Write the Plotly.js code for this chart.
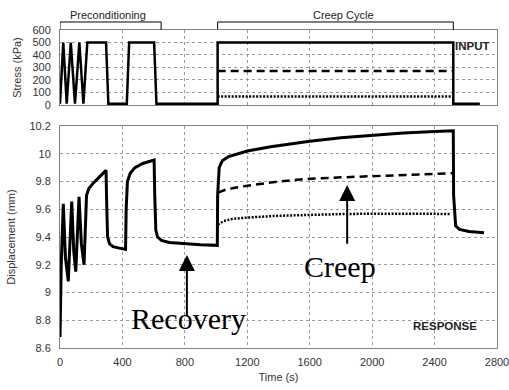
<!DOCTYPE html>
<html><head><meta charset="utf-8">
<script src="https://cdn.plot.ly/plotly-3.0.1.min.js"></script>
<style>html,body{margin:0;padding:0;background:#fff}#c{width:509px;height:390px}</style>
</head><body><div id="c"></div>
<script>
// ---- Input (stress, kPa) ----
const inputT     = [0, 21, 43, 69, 96, 124, 150, 175, 295, 310, 428, 443, 603, 618, 1010, 1010, 2520, 2520, 2690];
const inputHigh  = [10, 500, 10, 500, 10, 500, 10, 500, 500, 10, 10, 500, 500, 10, 10, 500, 500, 10, 10];
const inputMidT  = [1010, 2520];
const inputMid   = [272, 272];
const inputLowT  = [1010, 2505];
const inputLow   = [68, 68];

// ---- Response (displacement, mm) ----
const respT = [0, 8, 21, 35, 53, 75, 88, 101, 122, 137, 154, 162, 170, 185, 214, 250, 295, 300, 305, 318, 340, 380, 420,
               424, 432, 450, 480, 530, 603, 607, 614, 625, 650, 700, 800, 900, 1008,
               1010, 1020, 1040, 1080, 1140, 1200, 1350, 1600, 1800, 2000, 2200, 2400, 2520,
               2522, 2535, 2560, 2620, 2717];
const respHigh = [8.68, 9.2, 9.64, 9.25, 9.08, 9.655, 9.3, 9.15, 9.69, 9.35, 9.2, 9.5, 9.7, 9.75, 9.79, 9.83, 9.88, 9.6, 9.4, 9.35, 9.33, 9.32, 9.31,
               9.6, 9.8, 9.86, 9.9, 9.93, 9.955, 9.7, 9.45, 9.40, 9.375, 9.36, 9.35, 9.345, 9.34,
               9.7, 9.9, 9.95, 9.98, 10.0, 10.02, 10.05, 10.09, 10.115, 10.135, 10.15, 10.16, 10.166,
               9.7, 9.48, 9.455, 9.44, 9.43];
const respMidT = [1012, 1060, 1120, 1200, 1400, 1600, 1800, 2000, 2200, 2400, 2520];
const respMid  = [9.72, 9.74, 9.755, 9.77, 9.80, 9.82, 9.83, 9.84, 9.85, 9.855, 9.86];
const respLowT = [1012, 1050, 1100, 1200, 1400, 1600, 1800, 2000, 2200, 2400, 2505];
const respLow  = [9.49, 9.515, 9.53, 9.54, 9.553, 9.56, 9.565, 9.568, 9.57, 9.567, 9.565];

// ---- Ticks ----
const timeTicks   = [0, 400, 800, 1200, 1600, 2000, 2400, 2800];
const stressTicks = [0, 100, 200, 300, 400, 500, 600];
const dispTicks   = [8.6, 8.8, 9, 9.2, 9.4, 9.6, 9.8, 10, 10.2];
const dispLabels  = ['8.6', '8.8', '9', '9.2', '9.4', '9.6', '9.8', '10', '10.2'];

// ---- Phases ----
const phaseNames = ['Preconditioning', 'Creep Cycle'];
const phaseStart = [0, 1010];
const phaseEnd   = [648, 2520];
const phaseLabelT = [310, 1815];

// ---- Text notes ----
const noteText = ['Recovery', 'Creep'];
const noteT    = [822, 1795];
const noteV    = [8.81, 9.19];
const arrowT   = [813, 1840];
const arrowHeadV = [9.27, 9.775];
const arrowTailV = [8.82, 9.34];

const tickFont = {family: 'Liberation Sans, Arial, sans-serif', size: 11, color: '#333'};
const frameCol = '#808080';

const traces = [
  {x: inputT, y: inputHigh, xaxis: 'x2', yaxis: 'y2', mode: 'lines', line: {color: '#000', width: 2.5}},
  {x: inputMidT, y: inputMid, xaxis: 'x2', yaxis: 'y2', mode: 'lines', line: {color: '#000', width: 2.5, dash: '8px,5px'}},
  {x: inputLowT, y: inputLow, xaxis: 'x2', yaxis: 'y2', mode: 'lines', line: {color: '#000', width: 2.5, dash: '2px,1.5px'}},
  {x: respT, y: respHigh, xaxis: 'x', yaxis: 'y', mode: 'lines', line: {color: '#000', width: 3}},
  {x: respMidT, y: respMid, xaxis: 'x', yaxis: 'y', mode: 'lines', line: {color: '#000', width: 2.5, dash: '8px,5px'}},
  {x: respLowT, y: respLow, xaxis: 'x', yaxis: 'y', mode: 'lines', line: {color: '#000', width: 2.5, dash: '2px,1.5px'}}
];

const gridCommon = {showgrid: true, gridcolor: '#9a9a9a', griddash: 'dot', gridwidth: 1,
  showline: true, mirror: true, linecolor: frameCol, linewidth: 1, zeroline: false, ticks: '', tickfont: tickFont, fixedrange: true};

const shapes = [];
const annotations = [];
for (let i = 0; i < phaseNames.length; i++) {
  shapes.push({type: 'line', xref: 'x2', yref: 'paper', x0: phaseStart[i], x1: phaseEnd[i], y0: 1.0252, y1: 1.0252, line: {color: '#000', width: 1}});
  shapes.push({type: 'line', xref: 'x2', yref: 'paper', x0: phaseStart[i], x1: phaseStart[i], y0: 1.0252, y1: 1.003, line: {color: '#000', width: 1}});
  shapes.push({type: 'line', xref: 'x2', yref: 'paper', x0: phaseEnd[i], x1: phaseEnd[i], y0: 1.0252, y1: 1.0, line: {color: '#000', width: 1}});
  annotations.push({xref: 'x2', yref: 'paper', x: phaseLabelT[i], y: 1.047, text: phaseNames[i], showarrow: false,
    font: {family: 'Liberation Sans, Arial, sans-serif', size: 11, color: '#222'}, yanchor: 'middle'});
}
for (let i = 0; i < noteText.length; i++) {
  annotations.push({xref: 'x', yref: 'y', x: noteT[i], y: noteV[i], text: noteText[i], showarrow: false,
    font: {family: 'Liberation Serif, Times New Roman, serif', size: 30, color: '#000'}});
  annotations.push({xref: 'x', yref: 'y', axref: 'x', ayref: 'y', x: arrowT[i], y: arrowHeadV[i], ax: arrowT[i], ay: arrowTailV[i],
    text: '', showarrow: true, arrowhead: 2, arrowsize: 1.6, arrowwidth: 2, arrowcolor: '#000', standoff: 0, startstandoff: 0});
}
annotations.push({xref: 'paper', yref: 'paper', x: 1, y: 0.976, xanchor: 'right', xshift: -5, text: '<b>INPUT</b>', showarrow: false,
  font: {family: 'Liberation Sans, Arial, sans-serif', size: 11.5, color: '#222'}});
annotations.push({xref: 'paper', yref: 'paper', x: 1, y: 0.044, xanchor: 'right', xshift: -18, text: '<b>RESPONSE</b>', showarrow: false,
  font: {family: 'Liberation Sans, Arial, sans-serif', size: 11.5, color: '#222'}});

const layout = {
  width: 509, height: 390,
  margin: {l: 60, r: 12, t: 30, b: 42},
  paper_bgcolor: '#fff', plot_bgcolor: '#fff',
  showlegend: false,
  xaxis: Object.assign({}, gridCommon, {domain: [0, 1], anchor: 'y', range: [0, 2800], tickvals: timeTicks,
    ticklabeloverflow: 'allow',
    ticklabelstandoff: 4, title: {text: 'Time (s)', font: {family: 'Liberation Sans, Arial, sans-serif', size: 11, color: '#333'}, standoff: 6}}),
  yaxis: Object.assign({}, gridCommon, {domain: [0, 0.6981], anchor: 'x', range: [8.6, 10.2], tickvals: dispTicks, ticktext: dispLabels,
    ticklabelstandoff: 6, title: {text: 'Displacement (mm)', font: {family: 'Liberation Sans, Arial, sans-serif', size: 11, color: '#333'}, standoff: 11}}),
  xaxis2: Object.assign({}, gridCommon, {domain: [0, 1], anchor: 'y2', range: [0, 2800], tickvals: timeTicks, showticklabels: false}),
  yaxis2: Object.assign({}, gridCommon, {domain: [0.7642, 1], anchor: 'x2', range: [0, 600], tickvals: stressTicks,
    ticklabelstandoff: 6, title: {text: 'Stress (kPa)', font: {family: 'Liberation Sans, Arial, sans-serif', size: 11, color: '#333'}, standoff: 8}}),
  shapes: shapes,
  annotations: annotations
};

Plotly.newPlot('c', traces, layout, {staticPlot: true, displayModeBar: false});
</script></body></html>
